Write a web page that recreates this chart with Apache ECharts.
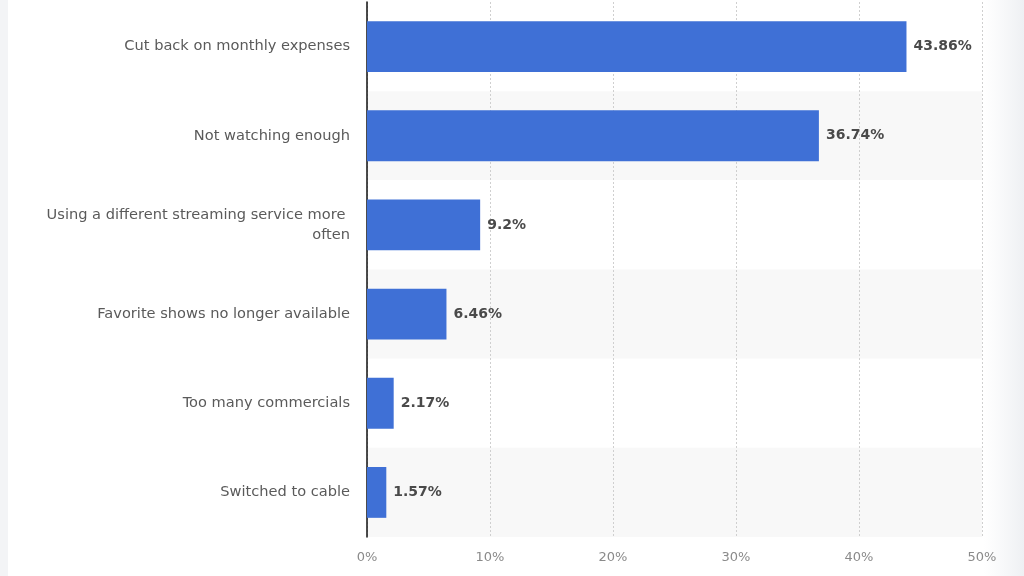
<!DOCTYPE html>
<html><head><meta charset="utf-8">
<script src="https://cdn.jsdelivr.net/npm/echarts@6/dist/echarts.min.js"></script>
<style>html,body{margin:0;padding:0;background:#fff}#c{width:1024px;height:576px}</style>
</head><body><div id="c"></div>
<script>
const categories = [
  "Cut back on monthly expenses",
  "Not watching enough",
  "Using a different streaming service more often",
  "Favorite shows no longer available",
  "Too many commercials",
  "Switched to cable"
];
const values = [43.86, 36.74, 9.2, 6.46, 2.17, 1.57];
const xTicks = [0, 10, 20, 30, 40, 50];

const chart = echarts.init(document.getElementById('c'));
chart.setOption({
  animation: false,
  backgroundColor: '#ffffff',
  textStyle: { fontFamily: 'DejaVu Sans' },
  graphic: [
    { type: 'rect', left: 0, top: 0, shape: { width: 8, height: 576 }, style: { fill: '#f3f4f6' }, silent: true },
    { type: 'rect', right: 0, top: 0, shape: { width: 40, height: 576 },
      style: { fill: new echarts.graphic.LinearGradient(0, 0, 1, 0, [{ offset: 0, color: 'rgba(240,242,245,0)' }, { offset: 1, color: '#eef0f3' }]) }, silent: true }
  ],
  grid: { left: 367, right: 42, top: 2, bottom: 39, containLabel: false },
  xAxis: {
    type: 'value', min: xTicks[0], max: xTicks[xTicks.length - 1], interval: 10,
    axisLine: { show: false }, axisTick: { show: false },
    axisLabel: { color: '#8a8a8a', fontSize: 13, margin: 14, formatter: v => v + '%' },
    splitLine: { show: true, lineStyle: { color: '#cfcfcf', type: [2, 2], width: 1 } }
  },
  yAxis: {
    type: 'category', data: categories, inverse: true,
    axisLine: { show: true, lineStyle: { color: '#111', width: 1.5 } },
    axisTick: { show: false },
    axisLabel: { color: '#5a5a5a', fontSize: 14.6, margin: 17, width: 322, overflow: 'break', lineHeight: 20 },
    splitArea: { show: true, areaStyle: { color: ['#ffffff', '#f8f8f8'] } }
  },
  series: [{
    type: 'bar', data: values, barCategoryGap: '43%',
    itemStyle: { color: '#3f70d6' },
    label: { show: true, position: 'right', distance: 7, color: '#4a4a4a', fontWeight: 'bold', fontSize: 14, formatter: p => p.value + '%' }
  }]
});
</script></body></html>
